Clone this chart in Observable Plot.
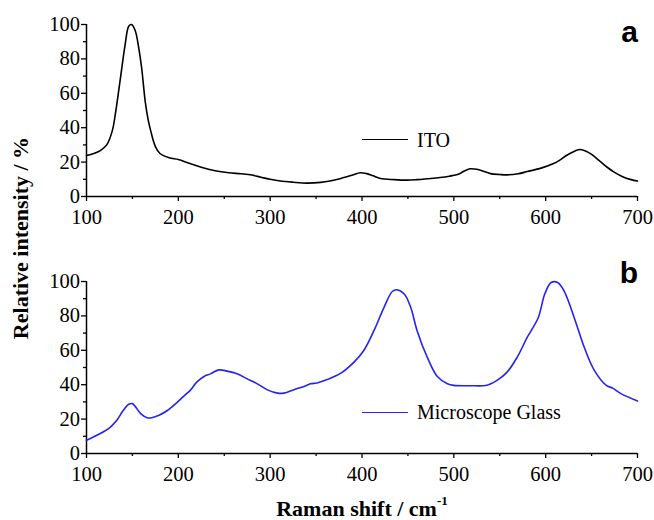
<!DOCTYPE html>
<html><head><meta charset="utf-8">
<script src="https://cdn.jsdelivr.net/npm/d3@7"></script>
<script src="https://cdn.jsdelivr.net/npm/@observablehq/plot@0.6"></script>
<style>
body{margin:0;background:#fff;}
#fig{position:relative;width:654px;height:520px;overflow:hidden;font-family:"Liberation Serif","Times New Roman",serif;color:#000;}
#fig svg{position:absolute;left:0;}
.lbl{position:absolute;white-space:nowrap;line-height:1;}
.leg{position:absolute;height:0;border-top:1.6px solid;}
</style></head><body><div id="fig"></div>
<script>
// ITO spectrum (panel a)
const itoShift = [100,108,115,122,128,132,137,142,146,149,153,157,160,164,167,170,175,180,190,200,211,225,240,255,268,280,290,300,311,325,340,355,365,377,390,398,405,412,420,435,449,460,471,485,495,505,512,518,525,533,540,550,558,570,580,595,608,615,623,632,638,644,650,658,667,675,685,693,700];
const itoIntensity = [23.8,25,26.7,30,38,50,69,88,99,100,96.5,86,75,55,45,38,29,25,22.5,21.5,19.5,17,15,13.8,13.2,12.5,11.2,10,9,8.3,7.8,8.2,9,10.5,12.5,13.8,13.3,12,10.5,9.8,9.5,9.8,10.3,11,11.8,13,15,16.1,15.8,14.5,13.3,12.8,12.6,13.2,14.5,16.5,19,21,24,26.5,27.3,26.3,24.5,21,17,14,11.2,9.8,9];
// Microscope glass spectrum (panel b)
const glassShift = [100,115,126,133,140,146,150,153,159,166,171,179,188,199,206,213,220,228,235,244,253,264,275,286,297,308,315,326,337,344,351,362,377,391,402,413,424,433,438,446,453,460,471,482,493,500,518,536,547,558,569,580,592,599,606,613,620,631,642,653,666,673,682,700];
const glassIntensity = [7.7,11.6,15.4,19.3,25,28.6,29,27.4,23.2,20.8,20.8,22.2,25,29.9,33.4,36.7,41.5,44.8,46.3,48.6,47.9,46.3,43.4,40.5,37,35.1,35.1,37.1,39,40.5,41,43,46.7,53,59.9,71.4,85,94.2,95.2,92.7,85,71.4,56,44.8,40.6,39.6,39.4,39.7,42.5,47.3,56,67.6,79.1,92.7,99.4,99.4,94.6,79.1,61.8,48.3,39.6,38,34.8,30.5];

const xMajorTicks = [100,200,300,400,500,600,700];
const xMinorTicks = [150,250,350,450,550,650];
const yMajorTicks = [0,20,40,60,80,100];
const yMinorTicks = [10,30,50,70,90];

const seriesNames = ["ITO","Microscope Glass"];
const seriesColors = ["#000000","#2424f0"];
const panelLetters = ["a","b"];

const fig = document.getElementById("fig");

function panel(shift, intensity, color, height, marginTop, marginBottom) {
  const data = shift.map((x, i) => ({shift: x, intensity: intensity[i]}));
  return Plot.plot({
    width: 654, height, marginLeft: 86, marginRight: 17, marginTop, marginBottom,
    x: {domain: [100, 700]},
    y: {domain: [0, 100]},
    style: {fontFamily: "'Liberation Serif','Times New Roman',serif", fontSize: "20.5px", color: "#000", background: "transparent", overflow: "visible"},
    marks: [
      Plot.axisX({ticks: xMajorTicks, tickSize: 5, tickPadding: 8, tickFormat: d => String(d), label: null, strokeWidth: 1.3}),
      Plot.axisX({ticks: xMinorTicks, tickSize: 3, tickFormat: () => "", label: null, strokeWidth: 1.3}),
      Plot.axisY({ticks: yMajorTicks, tickSize: 5, tickPadding: 1.5, tickFormat: d => String(d), label: null, strokeWidth: 1.3}),
      Plot.axisY({ticks: yMinorTicks, tickSize: 3, tickFormat: () => "", label: null, strokeWidth: 1.3}),
      Plot.ruleY([0], {strokeWidth: 1.5}),
      Plot.ruleX([100], {strokeWidth: 1.5}),
      Plot.line(data, {x: "shift", y: "intensity", stroke: color, strokeWidth: 1.6, curve: "catmull-rom"})
    ]
  });
}

const top1 = panel(itoShift, itoIntensity, seriesColors[0], 250, 24, 54);
top1.style.top = "0px";
fig.appendChild(top1);
const bot = panel(glassShift, glassIntensity, seriesColors[1], 270, 31, 67);
bot.style.top = "250px";
fig.appendChild(bot);

function addLabel(html, css) {
  const d = document.createElement("div");
  d.className = "lbl";
  d.innerHTML = html;
  Object.assign(d.style, css);
  fig.appendChild(d);
  return d;
}
function addLegendLine(color, left, top) {
  const d = document.createElement("div");
  d.className = "leg";
  Object.assign(d.style, {left: left + "px", top: top + "px", width: "46px", borderTopColor: color});
  fig.appendChild(d);
}

// legends
addLegendLine(seriesColors[0], 362, 138.5);
addLabel(seriesNames[0], {left: "417px", top: "130px", fontSize: "20px", lineHeight: "20px"});
addLegendLine(seriesColors[1], 362, 412);
addLabel(seriesNames[1], {left: "417px", top: "401.5px", fontSize: "20px", lineHeight: "20px"});

// panel letters
addLabel(panelLetters[0], {right: "16px", top: "16.6px", fontSize: "30px", lineHeight: "30px", fontWeight: "bold", fontFamily: "'Liberation Sans',Arial,sans-serif"});
addLabel(panelLetters[1], {right: "16px", top: "257.6px", fontSize: "30px", lineHeight: "30px", fontWeight: "bold", fontFamily: "'Liberation Sans',Arial,sans-serif"});

// axis titles
addLabel("Relative intensity / %", {left: "20.6px", top: "238px", fontSize: "22px", lineHeight: "22px", fontWeight: "bold", transform: "translate(-50%,-50%) rotate(-90deg)"});
addLabel('Raman shift / cm<span style="font-size:13px;position:relative;top:-11px;">-1</span>', {left: "362px", top: "500px", fontSize: "22px", lineHeight: "18px", fontWeight: "bold", transform: "translateX(-50%)"});
</script></body></html>
